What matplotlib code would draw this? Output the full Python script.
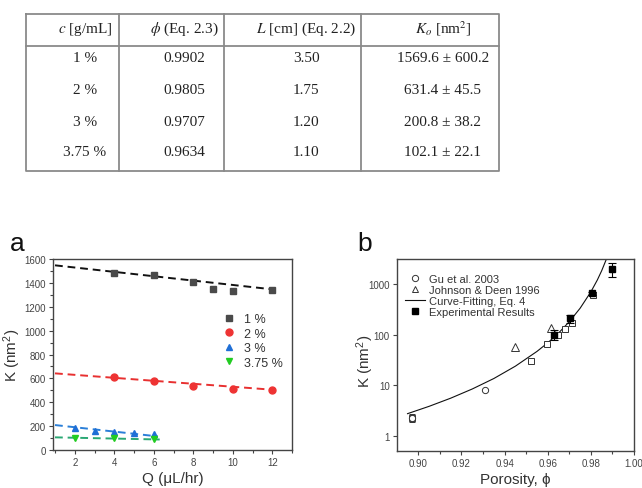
import numpy as np
import matplotlib
matplotlib.use("Agg")
import matplotlib.pyplot as plt
from matplotlib.lines import Line2D

plt.rcParams['font.family'] = ['Liberation Sans', 'DejaVu Sans']
plt.rcParams['mathtext.fontset'] = 'custom'
plt.rcParams['mathtext.rm'] = 'Liberation Sans'
plt.rcParams['mathtext.it'] = 'Liberation Sans:italic'

# ---- table data ----
tab_header = ["$c$ [g/mL]", "$\\phi$ (Eq. 2.3)", "$L$ [cm] (Eq. 2.2)", "$K_o$ [nm$^2$]"]
tab_conc = ["1 %", "2 %", "3 %", "3.75 %"]
tab_phi = ["0.9902", "0.9805", "0.9707", "0.9634"]
tab_len = ["3.50", "1.75", "1.20", "1.10"]
tab_k0 = ["1569.6 \u00b1 600.2", "631.4 \u00b1 45.5", "200.8 \u00b1 38.2", "102.1 \u00b1 22.1"]

# ---- panel a: K vs flow rate ----
series_a = ["1 %", "2 %", "3 %", "3.75 %"]
q_1 = [4, 6, 8, 9, 10, 12]
k_1 = [1480, 1469, 1404, 1351, 1335, 1343]
q_2 = [4, 6, 8, 10, 12]
k_2 = [614, 575, 533, 511, 505]
q_3 = [2, 3, 4, 5, 6]
k_3 = [181, 156, 148, 140, 134]
q_4 = [2, 4, 6]
k_4 = [98, 98, 89]
# dashed fit lines (end points)
fit_q_1, fit_k_1 = [1, 12], [1547, 1346]
fit_q_2, fit_k_2 = [1, 12], [642, 505]
fit_q_3, fit_k_3 = [1, 6.2], [209, 114]
fit_q_4, fit_k_4 = [1, 6.3], [106, 88]

# ---- panel b: K vs porosity ----
gu_phi = [0.8969, 0.9308]
gu_k = [2.3, 8.2]
gu_err = [0.45, 0.0]
jd_phi = [0.945, 0.9616]
jd_k = [56, 138]
sq_phi = [0.8969, 0.9522, 0.9596, 0.9646, 0.9682, 0.9712, 0.9808]
sq_k = [2.2, 30.5, 65, 100, 132, 170, 600]
# fitted curve (Eq. 4)
curve_phi = [0.895, 0.905, 0.915, 0.925, 0.935, 0.945, 0.955, 0.960, 0.965,
             0.970, 0.975, 0.980, 0.983, 0.985, 0.9873]
curve_k = [2.74, 3.83, 5.55, 8.44, 13.6, 23.9, 46.8, 69.3, 108,
           182, 335, 708, 1219, 1854, 3236]
exp_phi = [0.9628, 0.9703, 0.9803, 0.9898]
exp_k = [100, 212, 665, 2000]
exp_err = [22, 38, 45, 600]


def table(fig):
    ax = fig.add_axes([0, 0, 1, 1], zorder=-1)
    ax.set_xlim(0, 642)
    ax.set_ylim(489, 0)
    ax.axis("off")
    cols = [26, 119, 224, 361, 499]
    top, hline, bottom = 15, 47, 172
    lc = "#8a8a8a"
    ax.plot([cols[0], cols[-1], cols[-1], cols[0], cols[0]],
            [top, top, bottom, bottom, top], color=lc, lw=1.3)
    ax.plot([cols[0], cols[-1]], [hline, hline], color=lc, lw=1.3)
    for x in cols[1:-1]:
        ax.plot([x, x], [top, bottom], color=lc, lw=1.3)
    centers = [85, 184, 306, 443]
    kw = dict(ha="center", va="center", fontsize=11, color="#222222",
              family=["Liberation Serif", "DejaVu Serif"], math_fontfamily="stix")
    for cx, h in zip(centers, tab_header):
        ax.text(cx, 29, h, **kw)
    rows_y = [59, 90, 122, 152]
    for i, y in enumerate(rows_y):
        for cx, vals in zip(centers, [tab_conc, tab_phi, tab_len, tab_k0]):
            ax.text(cx, y, vals[i], **kw)


def style(ax):
    for s in ax.spines.values():
        s.set_color("#444444")
        s.set_linewidth(1.0)
    ax.tick_params(which="both", direction="out", colors="#444444",
                   labelsize=7, top=False, right=False)
    ax.tick_params(which="major", length=3, width=0.8, pad=2)
    ax.tick_params(which="minor", length=2, width=0.8)


def main():
    fig = plt.figure(figsize=(6.42, 4.89), dpi=100)
    table(fig)

    # panel a
    ax = fig.add_axes([0.0826, 0.0777, 0.3723, 0.3906])
    cols = ["#4a4a4a", "#ee3333", "#1f6fd6", "#22cc22"]
    lcols = ["#111111", "#e83030", "#2a7fd8", "#2aa874"]
    mks = ["s", "o", "^", "v"]
    data = [(q_1, k_1), (q_2, k_2), (q_3, k_3), (q_4, k_4)]
    fits = [(fit_q_1, fit_k_1), (fit_q_2, fit_k_2), (fit_q_3, fit_k_3), (fit_q_4, fit_k_4)]
    for (q, k), (fq, fk), c, lc, m, lab in zip(data, fits, cols, lcols, mks, series_a):
        ax.plot(q, k, m, color=c, ms=5, mec=c, label=lab, zorder=3)
        ax.plot(fq, fk, color=lc, lw=1.4, ls=(0, (4, 2.5)), zorder=2)
    ax.set_xlim(0.9, 13)
    ax.set_ylim(0, 1600)
    ax.set_xticks(range(2, 13, 2))
    ax.set_xticks(range(1, 14, 2), minor=True)
    ax.set_yticks(range(0, 1601, 200))
    ax.set_yticks(range(100, 1600, 200), minor=True)
    style(ax)
    ax.set_xlabel("Q (\u03bcL/hr)", fontsize=11, color="#333333", labelpad=3)
    ax.set_ylabel("K (nm$^2$)", fontsize=11, color="#333333")
    ax.yaxis.set_label_coords(-0.125, 0.5)
    ax.legend(loc="upper left", bbox_to_anchor=(0.68, 0.75), frameon=False,
              fontsize=9, handlelength=1.2, handletextpad=0.6, labelspacing=0.2,
              borderpad=0, labelcolor="#333333")
    fig.text(0.016, 0.487, "a", fontsize=19, color="#111111")

    # panel b
    bx = fig.add_axes([0.618, 0.0757, 0.3696, 0.3926])
    bx.set_yscale("log")
    bx.plot(curve_phi, curve_k, color="#111111", lw=0.8, zorder=2)
    bx.errorbar(gu_phi, gu_k, yerr=gu_err, fmt="o", ms=4.5, mfc="white", mec="#333333",
                ecolor="#333333", elinewidth=0.7, capsize=2.5, mew=0.7, zorder=3)
    bx.plot(sq_phi, sq_k, "s", ms=4.5, mfc="white", mec="#333333", mew=0.7, zorder=3)
    bx.plot(jd_phi, jd_k, "^", ms=5.5, mfc="white", mec="#333333", mew=0.7, zorder=3)
    bx.errorbar(exp_phi, exp_k, yerr=exp_err, fmt="s", ms=5, color="#000000",
                elinewidth=0.8, capsize=3, capthick=0.8, zorder=4)
    bx.set_xlim(0.89, 1.00)
    bx.set_ylim(0.5, 3162)
    bx.set_xticks([0.90, 0.92, 0.94, 0.96, 0.98, 1.00])
    bx.set_xticks([0.91, 0.93, 0.95, 0.97, 0.99], minor=True)
    bx.set_xticklabels(["0.90", "0.92", "0.94", "0.96", "0.98", "1.00"])
    bx.set_yticks([1, 10, 100, 1000])
    bx.set_yticklabels(["1", "10", "100", "1000"])
    bx.yaxis.set_minor_locator(matplotlib.ticker.NullLocator())
    style(bx)
    bx.set_xlabel("Porosity, \u03d5", fontsize=11, color="#333333", labelpad=3)
    bx.set_ylabel("K (nm$^2$)", fontsize=11, color="#333333")
    bx.yaxis.set_label_coords(-0.088, 0.47)
    handles = [
        Line2D([], [], ls="none", marker="o", ms=4.5, mfc="white", mec="#333333", mew=0.7),
        Line2D([], [], ls="none", marker="^", ms=5, mfc="white", mec="#333333", mew=0.7),
        Line2D([], [], color="#111111", lw=0.8),
        Line2D([], [], ls="none", marker="s", ms=5, color="#000000"),
    ]
    labels = ["Gu et al. 2003", "Johnson & Deen 1996", "Curve-Fitting, Eq. 4", "Experimental Results"]
    bx.legend(handles, labels, loc="upper left", bbox_to_anchor=(0.01, 0.95), frameon=False,
              fontsize=8, handlelength=1.8, handletextpad=0.4, labelspacing=0.08,
              borderpad=0, labelcolor="#333333")
    fig.text(0.556, 0.487, "b", fontsize=19, color="#111111")

    fig.savefig("out.png", dpi=100)


if __name__ == '__main__':
    main()
